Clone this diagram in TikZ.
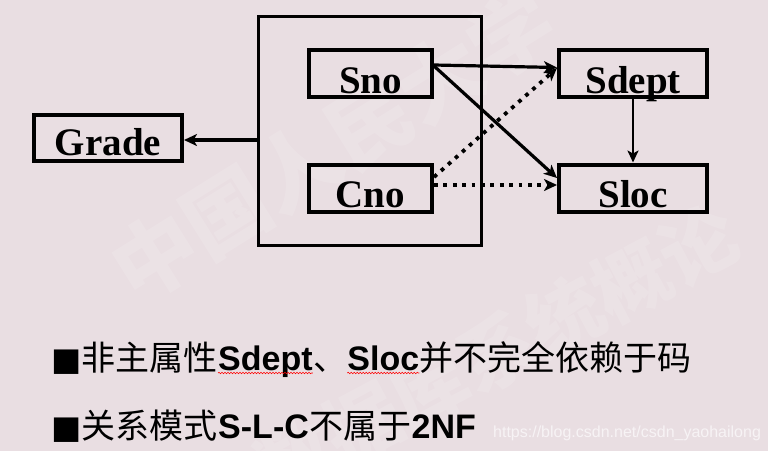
\documentclass[tikz,border=0pt]{standalone}
\usepackage{fontspec}
\setmainfont{Liberation Serif}
\newfontfamily\cjk{Noto Sans CJK SC}
\newfontfamily\arialf{Liberation Sans}
\newfontfamily\dvs{DejaVu Sans}
\usetikzlibrary{arrows.meta,decorations.pathmorphing}
\definecolor{bg}{RGB}{233,222,226}
\definecolor{urlc}{RGB}{247,243,245}
\begin{document}
\begin{tikzpicture}[x=1pt,y=-1pt,
  box/.style={draw=black,line width=4pt,inner sep=0pt,minimum width=#1,
    text height=43pt,text depth=4pt,font=\fontsize{39}{39}\selectfont\bfseries},
  arr/.style={line width=3.2pt,-{Stealth[length=13pt,width=12pt,inset=3.5pt]}},
  dotarr/.style={line width=3.8pt,dash pattern=on 3.8pt off 5.6pt,
    -{Stealth[length=13pt,width=12pt,inset=3.5pt]}},
  txt/.style={inner sep=0pt,anchor=base west,font=\fontsize{34}{34}\selectfont},
  wavy/.style={draw=red,line width=0.6pt,decorate,
    decoration={snake,amplitude=0.7pt,segment length=3pt}},
  wm/.style={text=white,opacity=0.13,font=\cjk\bfseries\fontsize{#1}{#1}\selectfont}]
\useasboundingbox (0,0) rectangle (768,451);
\fill[bg] (0,0) rectangle (768,451);
% watermark
\node[wm=84,rotate=32] (wma) at (333,145) {中国人民大学};
\node[wm=76,rotate=28] (wmb) at (497,352) {数据库系统概论};
% diagram
\node[draw=black,line width=3.5pt,inner sep=0pt,minimum width=223pt,minimum height=229pt] (key) at (370,131) {};
\node[box=148pt,text height=40pt,text depth=6pt] (grade) at (108,138) {Grade};
\node[box=123pt] (sno) at (370.5,73.5) {Sno};
\node[box=123pt] (cno) at (370.5,188) {Cno};
\node[box=148pt] (sdept) at (633,73.5) {Sdept};
\node[box=148pt] (sloc) at (633,188) {Sloc};
\draw[arr] ([yshift=-9pt]key.west) -- ([yshift=-2pt]grade.east);
\draw[arr] ([yshift=8.5pt]sno.east) -- ([yshift=6pt]sdept.west);
\draw[arr] ([yshift=7.5pt]sno.east) -- ([yshift=10pt]sloc.west);
\draw[dotarr] ([yshift=11pt]cno.east) -- ([yshift=5.5pt]sdept.west);
\draw[dotarr] ([yshift=3pt]cno.east) -- ([yshift=3pt]sloc.west);
\draw[line width=2.6pt,-{Stealth[length=12pt,width=11pt,inset=3pt]}] (sdept.south) -- (sloc.north);
% text line 1
\node[txt] (la1) at (51,370) {\dvs\fontsize{32}{32}\selectfont ■};
\node[txt] (la2) at (la1.base east) {\cjk 非主属性};
\node[txt] (la3) at (la2.base east) {\arialf\bfseries Sdept};
\node[txt] (la4) at (la3.base east) {\cjk 、};
\node[txt] (la5) at (la4.base east) {\arialf\bfseries Sloc};
\node[txt] (la6) at (la5.base east) {\cjk 并不完全依赖于码};
\draw[wavy] ([yshift=-3pt]la3.base west) -- ([yshift=-3pt]la3.base east);
\draw[wavy] ([yshift=-3pt]la5.base west) -- ([yshift=-3pt]la5.base east);
% text line 2
\node[txt] (lb1) at (51,438) {\dvs\fontsize{32}{32}\selectfont ■};
\node[txt] (lb2) at (lb1.base east) {\cjk 关系模式};
\node[txt] (lb3) at (lb2.base east) {\arialf\bfseries S-L-C};
\node[txt] (lb4) at (lb3.base east) {\cjk 不属于};
\node[txt] (lb5) at (lb4.base east) {\arialf\bfseries 2NF};
% url
\node[inner sep=0pt,anchor=base west,text=urlc,font=\arialf\fontsize{16}{16}\selectfont] (url) at (493,437) {https://blog.csdn.net/csdn\_yaohailong};
\end{tikzpicture}
\end{document}
